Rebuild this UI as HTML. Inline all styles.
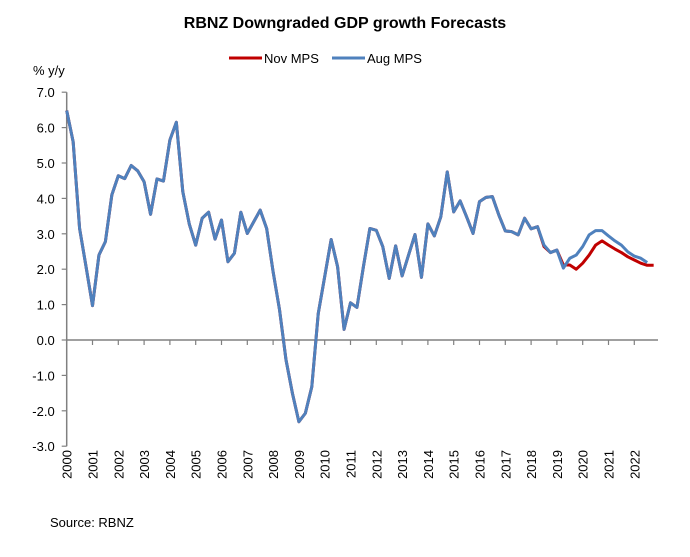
<!DOCTYPE html>
<html><head><meta charset="utf-8"><style>
body{margin:0;background:#fff;}
svg{display:block;font-family:"Liberation Sans",Arial,sans-serif;}
</style></head><body>
<svg id="chart" width="690" height="557">
<text x="345" y="28" text-anchor="middle" font-size="16" font-weight="bold" fill="#000">RBNZ Downgraded GDP growth Forecasts</text>
<g>
<line x1="229" y1="58" x2="262" y2="58" stroke="#c00000" stroke-width="3"/>
<text x="264" y="63" font-size="13">Nov MPS</text>
<line x1="332" y1="58" x2="365" y2="58" stroke="#4f81bd" stroke-width="3"/>
<text x="367" y="63" font-size="13">Aug MPS</text>
</g>
<text x="33" y="75" font-size="13">% y/y</text>
<g id="axes"></g>
<g id="series"></g>
<text x="50" y="527" font-size="13">Source: RBNZ</text>
</svg>
<script>
const history = [6.48,5.6,3.15,2.07,0.97,2.4,2.78,4.1,4.64,4.56,4.93,4.78,4.47,3.55,4.55,4.49,5.65,6.15,4.19,3.28,2.68,3.44,3.61,2.85,3.39,2.21,2.45,3.61,3.01,3.34,3.67,3.15,1.93,0.85,-0.56,-1.51,-2.31,-2.07,-1.32,0.75,1.79,2.84,2.07,0.3,1.05,0.92,2.07,3.15,3.1,2.64,1.74,2.66,1.81,2.4,2.98,1.77,3.28,2.94,3.48,4.75,3.62,3.93,3.48,3.01,3.91,4.03,4.05,3.53,3.08,3.06,2.97,3.44,3.14,3.2];
const novForecast = [2.64,2.47,2.54,2.12,2.12,2.0,2.17,2.4,2.68,2.8,2.68,2.57,2.47,2.35,2.26,2.17,2.11,2.11];
const augForecast = [2.68,2.47,2.54,2.03,2.31,2.4,2.64,2.97,3.09,3.09,2.94,2.8,2.68,2.49,2.37,2.31,2.19];
const yTicks = [7,6,5,4,3,2,1,0,-1,-2,-3];
const yearLabels = ["2000","2001","2002","2003","2004","2005","2006","2007","2008","2009","2010","2011","2012","2013","2014","2015","2016","2017","2018","2019","2020","2021","2022"];
const novSeries = history.concat(novForecast);
const augSeries = history.concat(augForecast);

const NS="http://www.w3.org/2000/svg";
const x0=66.7, dx=6.45, y0=340, ky=35.4, xEnd=658;
const X=i=>x0+i*dx;
const Y=v=>y0-v*ky;
const axes=document.getElementById('axes');
const ser=document.getElementById('series');
function mk(tag,attrs,parent){const e=document.createElementNS(NS,tag);for(const k in attrs)e.setAttribute(k,attrs[k]);parent.appendChild(e);return e;}

const ya=mk('line',{x1:x0,y1:Y(7),x2:x0,y2:Y(-3),stroke:'#808080','stroke-width':1.5},axes);


yTicks.forEach(v=>{
  const t=mk('line',{x1:x0-5,y1:Y(v),x2:x0,y2:Y(v),stroke:'#808080','stroke-width':1.2},axes);
  
  
  const l=mk('text',{x:x0-12,y:Y(v)+5,'text-anchor':'end','font-size':13},axes);
  l.textContent=v.toFixed(1);
  
  
});
const xa=mk('line',{x1:x0,y1:Y(0),x2:xEnd,y2:Y(0),stroke:'#808080','stroke-width':1.5},axes);


yearLabels.forEach((lab,j)=>{
  const x=X(j*4);
  if(j>0){
    const t=mk('line',{x1:x,y1:Y(0),x2:x,y2:Y(0)+5,stroke:'#808080','stroke-width':1.2},axes);
    
    
  }
  const l=mk('text',{x:0,y:0,'text-anchor':'end','font-size':13,transform:`translate(${x+5},450) rotate(-90)`},axes);
  l.textContent=lab;
  
  
});
function line(vals,color,name){
  const p=mk('polyline',{points:vals.map((v,i)=>X(i)+','+Y(v)).join(' '),fill:'none',stroke:color,'stroke-width':3,'stroke-linejoin':'round'},ser);
  
  
}
line(novSeries,'#c00000','nov-mps-line');
line(augSeries,'#4f81bd','aug-mps-line');
</script>
</body></html>
